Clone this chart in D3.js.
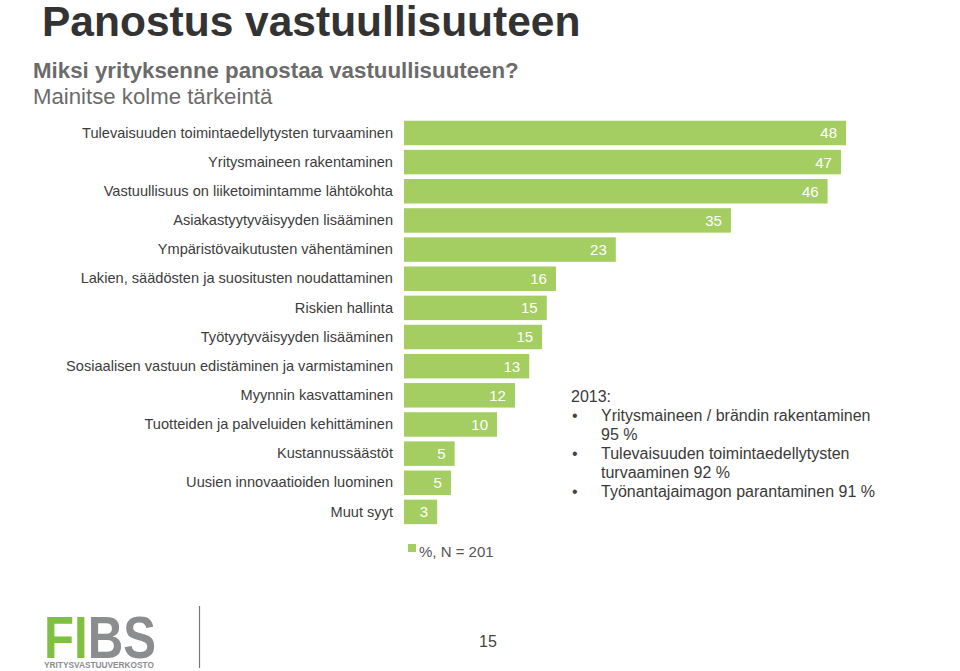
<!DOCTYPE html>
<html><head><meta charset="utf-8">
<script src="https://cdn.jsdelivr.net/npm/d3@7"></script>
<style>
html,body{margin:0;padding:0;background:#fff;}
svg{display:block;font-family:"Liberation Sans",Arial,Helvetica,sans-serif;}
</style></head>
<body>
<script>
const categories = [
  "Tulevaisuuden toimintaedellytysten turvaaminen",
  "Yritysmaineen rakentaminen",
  "Vastuullisuus on liiketoimintamme lähtökohta",
  "Asiakastyytyväisyyden lisääminen",
  "Ympäristövaikutusten vähentäminen",
  "Lakien, säädösten ja suositusten noudattaminen",
  "Riskien hallinta",
  "Työtyytyväisyyden lisääminen",
  "Sosiaalisen vastuun edistäminen ja varmistaminen",
  "Myynnin kasvattaminen",
  "Tuotteiden ja palveluiden kehittäminen",
  "Kustannussäästöt",
  "Uusien innovaatioiden luominen",
  "Muut syyt"
];
// bar lengths (%)
const values = [48.0, 47.45, 46.0, 35.5, 23.0, 16.5, 15.5, 15.0, 13.6, 12.05, 10.1, 5.5, 5.1, 3.6];
// printed value labels
const valueLabels = ["48","47","46","35","23","16","15","15","13","12","10","5","5","3"];
const legendLabel = "%, N = 201";
const noteLines = [
  {bullet:false, text:"2013:"},
  {bullet:true,  text:"Yritysmaineen / brändin rakentaminen"},
  {bullet:false, text:"95 %", indent:true},
  {bullet:true,  text:"Tulevaisuuden toimintaedellytysten"},
  {bullet:false, text:"turvaaminen 92 %", indent:true},
  {bullet:true,  text:"Työnantajaimagon parantaminen 91 %"}
];

const W = 960, H = 671;
const svg = d3.select("body").append("svg").attr("width", W).attr("height", H);

// Titles
svg.append("text").attr("x", 42).attr("y", 36)
  .attr("font-size", 42.5).attr("font-weight", "bold").attr("fill", "#333333")
  .text("Panostus vastuullisuuteen");
svg.append("text").attr("x", 33).attr("y", 78)
  .attr("font-size", 22.3).attr("font-weight", "bold").attr("fill", "#6b6b6b")
  .text("Miksi yrityksenne panostaa vastuullisuuteen?");
svg.append("text").attr("x", 33).attr("y", 104)
  .attr("font-size", 22.2).attr("fill", "#6b6b6b")
  .text("Mainitse kolme tärkeintä");

// Scales
const x = d3.scaleLinear().domain([0, 48]).range([404, 846]);
const y = d3.scaleBand().domain(categories).range([118.4, 526.5])
  .paddingInner(0.16).paddingOuter(0.08);

const green = "#a4cd62";
const data = categories.map((c, i) => ({c, v: values[i], l: valueLabels[i]}));

svg.append("g").selectAll("rect").data(data).join("rect")
  .attr("x", x(0)).attr("y", d => y(d.c))
  .attr("width", d => x(d.v) - x(0)).attr("height", y.bandwidth())
  .attr("fill", green);

// category axis (no line / ticks)
const yAxis = svg.append("g").attr("transform", "translate(393,0)")
  .call(d3.axisLeft(y).tickSize(0).tickPadding(0));
yAxis.select(".domain").remove();
yAxis.selectAll("text").attr("font-size", 14.6).attr("fill", "#3c3c3c")
  .attr("font-family", "'Liberation Sans',Arial,Helvetica,sans-serif");

// value labels
svg.append("g").selectAll("text").data(data).join("text")
  .attr("x", d => x(d.v) - 9).attr("y", d => y(d.c) + y.bandwidth() / 2)
  .attr("dy", "0.36em").attr("text-anchor", "end")
  .attr("font-size", 15).attr("fill", "#ffffff")
  .text(d => d.l);

// legend
svg.append("rect").attr("x", 408).attr("y", 544).attr("width", 8).attr("height", 8).attr("fill", green);
svg.append("text").attr("x", 419).attr("y", 557).attr("font-size", 15).attr("fill", "#555555").text(legendLabel);

// 2013 note
const note = svg.append("g");
noteLines.forEach((ln, i) => {
  const yy = 402 + i * 19;
  if (ln.bullet) {
    note.append("text").attr("x", 572).attr("y", yy).attr("font-size", 16).attr("fill", "#444").text("•");
  }
  note.append("text").attr("x", (ln.bullet || ln.indent) ? 601 : 571).attr("y", yy)
    .attr("font-size", 16).attr("fill", "#3a3a3a").text(ln.text);
});

// footer logo
const logo = svg.append("g");
const lt = logo.append("text").attr("x", 44).attr("y", 658).attr("font-size", 60).attr("font-weight", "bold")
  .attr("textLength", 112).attr("lengthAdjust", "spacingAndGlyphs");
lt.append("tspan").attr("fill", "#7fbf41").text("FI");
lt.append("tspan").attr("fill", "#8c8d8f").text("BS");
logo.append("text").attr("x", 44).attr("y", 668).attr("font-size", 8.5).attr("font-weight", "bold")
  .attr("fill", "#8c8d8f").attr("textLength", 110).attr("lengthAdjust", "spacingAndGlyphs")
  .text("YRITYSVASTUUVERKOSTO");
svg.append("line").attr("x1", 199.5).attr("x2", 199.5).attr("y1", 606).attr("y2", 668)
  .attr("stroke", "#777").attr("stroke-width", 1.2);
svg.append("text").attr("x", 488).attr("y", 647).attr("text-anchor", "middle")
  .attr("font-size", 16).attr("fill", "#444").text("15");
</script>
</body></html>
